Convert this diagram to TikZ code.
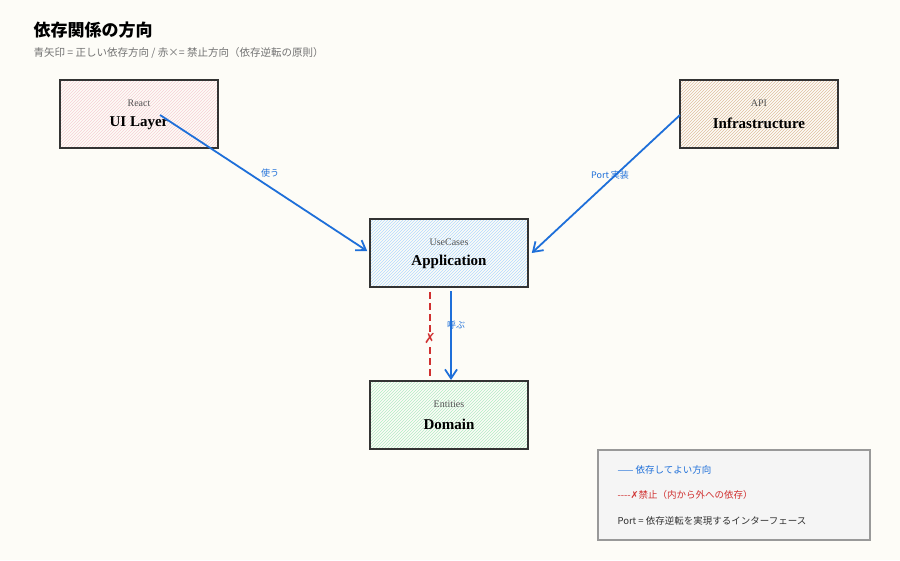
\documentclass[tikz,border=0pt]{standalone}
\usepackage{fontspec}
\setmainfont{Liberation Serif}
\newfontfamily\cjk{Noto Sans CJK JP}
\newfontfamily\sym{DejaVu Sans}
\usetikzlibrary{patterns,arrows.meta}
\definecolor{bg}{HTML}{FDFCF7}
\definecolor{ink}{HTML}{333333}
\definecolor{blu}{HTML}{1E6FD9}
\definecolor{rd}{HTML}{D03030}
\begin{document}
\begin{tikzpicture}[x=1pt,y=-1pt,
 box/.style={draw=ink,line width=1.6pt,minimum width=158pt,minimum height=68pt,inner sep=0pt},
 ttl/.style={font=\bfseries\fontsize{15}{17}\selectfont,text=black},
 sub/.style={font=\fontsize{10}{12}\selectfont,text=ink!85},
 dep/.style={blu,line width=1.8pt,-{Straight Barb[length=9pt,width=12pt]}},
 lbl/.style={font=\cjk\fontsize{9}{10}\selectfont,text=blu}]
\useasboundingbox[fill=bg] (0,0) rectangle (900,560);
\node[anchor=west,font=\cjk\bfseries\fontsize{17}{19}\selectfont] (title) at (30,30) {依存関係の方向};
\node[anchor=west,font=\cjk\fontsize{10.5}{12}\selectfont,text=gray!90!black] (subt) at (30,53) {青矢印 = 正しい依存方向 / 赤×= 禁止方向（依存逆転の原則）};
\node[box,pattern={north east lines},pattern color=pink!70!purple!40] (ui) at (139,114) {};
\node[box,pattern={north east lines},pattern color=brown!50] (inf) at (759,114) {};
\node[box,pattern={north east lines},pattern color=blue!50!cyan!30] (app) at (449,253) {};
\node[box,pattern={north east lines},pattern color=green!50!teal!30] (dom) at (449,415) {};
\foreach \n/\t/\s in {ui/UI Layer/React / Vue, inf/Infrastructure/API / Storage, app/Application/UseCases / Ports, dom/Domain/Entities / Logic}{
 \node[ttl] (\n t) at ([yshift=-9pt]\n.center) {\t};
 \node[sub] (\n s) at ([yshift=11pt]\n.center) {\s};
}
\coordinate (uis) at (160,115);
\coordinate (ins) at (680,115);
\draw[dep] (uis) -- ([xshift=-2pt,yshift=2pt]app.west);
\draw[dep] (ins) -- ([xshift=3pt]app.east);
\coordinate (a1) at (451,291); \coordinate (d1) at (451,380);
\draw[dep] (a1) -- (d1);
\coordinate (r1) at (430,292); \coordinate (r2) at (430,380);
\draw[rd,line width=1.8pt,dash pattern=on 7pt off 4pt] (r1) -- (r2);
\node[text=rd,font=\sym\bfseries\fontsize{14}{14}\selectfont,fill=bg,inner sep=0pt] (x) at (430,338) {✗};
\node[lbl] (l1) at (270,173) {使う};
\node[lbl] (l2) at (610,175) {Port 実装};
\node[lbl] (l3) at (456,325) {呼ぶ};
\node[draw=gray!80,line width=1.2pt,fill=gray!8,minimum width=272pt,minimum height=90pt] (leg) at (734,495) {};
\node[anchor=west,font=\cjk\fontsize{9.5}{11}\selectfont,text=blu] (g1) at (614,470) {—— 依存してよい方向};
\node[anchor=west,font=\cjk\fontsize{9.5}{11}\selectfont,text=rd] (g2) at (614,495) {{----}{\sym ✗}禁止（内から外への依存）};
\node[anchor=west,font=\cjk\fontsize{9.5}{11}\selectfont,text=ink] (g3) at (614,521) {Port = 依存逆転を実現するインターフェース};
\end{tikzpicture}
\end{document}
